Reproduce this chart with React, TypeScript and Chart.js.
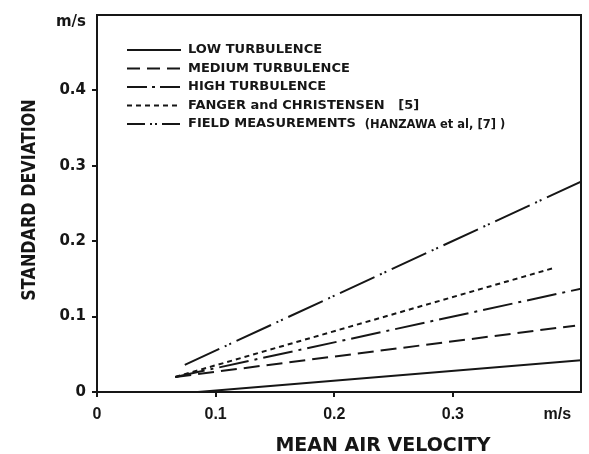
import React, { useEffect, useRef } from 'react';
import { Chart, registerables } from 'chart.js';

Chart.register(...registerables);

// ---- data ----
const seriesLabels = [
  'LOW TURBULENCE',
  'MEDIUM TURBULENCE',
  'HIGH TURBULENCE',
  'FANGER and CHRISTENSEN   [5]',
  'FIELD MEASUREMENTS  (HANZAWA et al, [7] )',
];
const lowX = [0.085, 0.408];
const lowY = [0.0, 0.042];
const mediumX = [0.066, 0.403];
const mediumY = [0.02, 0.088];
const highX = [0.066, 0.408];
const highY = [0.02, 0.137];
const fangerX = [0.066, 0.384];
const fangerY = [0.02, 0.164];
const fieldX = [0.074, 0.408];
const fieldY = [0.036, 0.279];

const xTickValues = [0, 0.1, 0.2, 0.3];
const yTickValues = [0, 0.1, 0.2, 0.3, 0.4];
const xUnitAt = 0.388;
const yUnitAt = 0.49;
const unitLabel = 'm/s';
const xTitle = 'MEAN AIR VELOCITY';
const yTitle = 'STANDARD DEVIATION';

const INK = '#161616';

const pts = (xs: number[], ys: number[]) => xs.map((x, i) => ({ x, y: ys[i] }));

const fmt = (v: number) => (v === 0 ? '0' : v.toFixed(1));

const boxPlugin = {
  id: 'box',
  afterDraw(chart: any) {
    const { ctx, chartArea: a } = chart;
    ctx.save();
    ctx.strokeStyle = INK;
    ctx.lineWidth = 2;
    ctx.strokeRect(a.left, a.top, a.right - a.left, a.bottom - a.top);
    ctx.restore();
  },
};

const legendPlugin = {
  id: 'insetLegend',
  afterDraw(chart: any) {
    const ctx = chart.ctx;
    chart.data.datasets.forEach((ds: any, i: number) => {
      const y = 50 + i * 18.5;
      ctx.save();
      ctx.strokeStyle = ds.borderColor;
      ctx.lineWidth = 2;
      ctx.setLineDash(ds.legendDash || []);
      ctx.beginPath();
      ctx.moveTo(127, y);
      ctx.lineTo(181, y);
      ctx.stroke();
      ctx.setLineDash([]);
      ctx.fillStyle = INK;
      ctx.textBaseline = 'middle';
      ctx.textAlign = 'left';
      const label: string = ds.label;
      const k = label.indexOf('(');
      const main = k >= 0 ? label.slice(0, k) : label;
      const rest = k >= 0 ? label.slice(k) : '';
      ctx.font = 'bold 13px "DejaVu Sans"';
      ctx.fillText(main, 188, y);
      if (rest) {
        const w = ctx.measureText(main).width;
        ctx.font = 'bold 11.5px "DejaVu Sans"';
        ctx.fillText(rest, 188 + w, y + 1);
      }
      ctx.restore();
    });
  },
};

const titlePlugin = {
  id: 'axisTitles',
  afterDraw(chart: any) {
    const ctx = chart.ctx;
    ctx.save();
    ctx.fillStyle = INK;
    ctx.textAlign = 'center';
    ctx.textBaseline = 'alphabetic';
    ctx.font = 'bold 19px "DejaVu Sans"';
    ctx.fillText(xTitle, 383, 451);
    ctx.translate(35, 200);
    ctx.rotate(-Math.PI / 2);
    ctx.scale(0.8, 1);
    ctx.font = 'bold 20px "DejaVu Sans"';
    ctx.fillText(yTitle, 0, 0);
    ctx.restore();
  },
};

export default function App() {
  const ref = useRef<HTMLCanvasElement>(null);
  useEffect(() => {
    if (!ref.current) return;
    const mk = (label: string, xs: number[], ys: number[], dash: number[], legendDash: number[]) => ({
      label,
      data: pts(xs, ys),
      borderColor: INK,
      backgroundColor: INK,
      borderWidth: 2,
      borderDash: dash,
      legendDash,
      pointRadius: 0,
      fill: false,
      tension: 0,
    });
    const chart = new Chart(ref.current, {
      type: 'line',
      data: {
        datasets: [
          mk(seriesLabels[0], lowX, lowY, [], []),
          mk(seriesLabels[1], mediumX, mediumY, [16, 7], [13, 7]),
          mk(seriesLabels[2], highX, highY, [30, 6, 3, 6], [20, 5, 3, 5]),
          mk(seriesLabels[3], fangerX, fangerY, [5, 4], [5, 4]),
          mk(seriesLabels[4], fieldX, fieldY, [38, 6, 2, 3, 2, 6], [18, 5, 2, 3, 2, 5]),
        ] as any,
      },
      options: {
        animation: false,
        responsive: true,
        maintainAspectRatio: false,
        layout: { padding: { top: 12, right: 8, left: 0, bottom: 0 } },
        plugins: { legend: { display: false }, tooltip: { enabled: false } },
        scales: {
          x: {
            type: 'linear',
            min: 0,
            max: 0.408,
            border: { display: false },
            grid: {
              drawOnChartArea: false,
              drawTicks: true,
              tickLength: 5,
              lineWidth: 2,
              color: (c: any) => (c.tick && c.tick.value === xUnitAt ? 'rgba(0,0,0,0)' : INK),
            },
            afterBuildTicks: (s: any) => {
              s.ticks = [...xTickValues, xUnitAt].map((v) => ({ value: v }));
            },
            afterFit: (s: any) => {
              s.height = 62;
            },
            ticks: {
              autoSkip: false,
              maxRotation: 0,
              padding: 8,
              color: INK,
              font: { family: '"Liberation Sans"', weight: 'bold', size: 16 },
              callback: (v: any) => (v === xUnitAt ? unitLabel : fmt(Number(v))),
            },
          },
          y: {
            type: 'linear',
            min: 0,
            max: 0.5,
            border: { display: false },
            grid: {
              drawOnChartArea: false,
              drawTicks: true,
              tickLength: 5,
              lineWidth: 2,
              color: (c: any) => (c.tick && c.tick.value === yUnitAt ? 'rgba(0,0,0,0)' : INK),
            },
            afterBuildTicks: (s: any) => {
              s.ticks = [...yTickValues, yUnitAt].map((v) => ({ value: v }));
            },
            afterFit: (s: any) => {
              s.width = 97;
            },
            ticks: {
              autoSkip: false,
              padding: 6,
              color: INK,
              font: { family: '"DejaVu Sans"', weight: 'bold', size: 15 },
              callback: (v: any) => (v === yUnitAt ? unitLabel : fmt(Number(v))),
            },
          },
        },
      },
      plugins: [boxPlugin, legendPlugin, titlePlugin],
    });
    return () => chart.destroy();
  }, []);
  return (
    <div style={{ position: 'absolute', left: 0, top: 0, width: 589, height: 454, background: '#fff' }}>
      <canvas ref={ref} />
    </div>
  );
}
